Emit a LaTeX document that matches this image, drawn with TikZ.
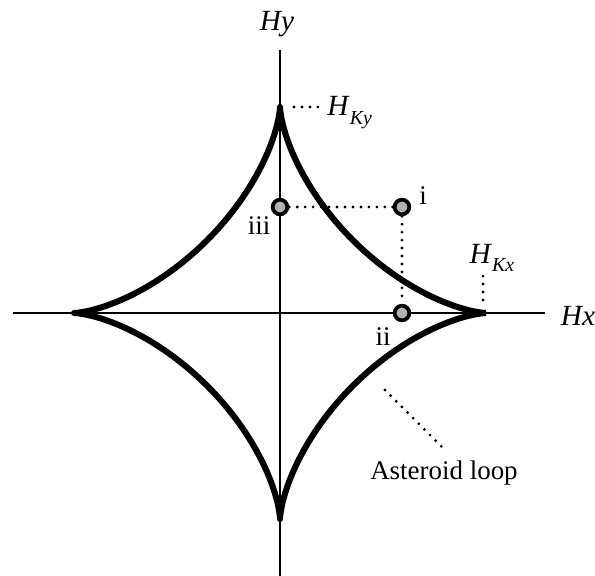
\documentclass[tikz,border=0pt]{standalone}
\usepackage{fontspec}
\setmainfont{Liberation Serif}
\usetikzlibrary{positioning}
\newcommand{\hsub}[1]{\textit{H}\raisebox{-0.28em}{\fontsize{17}{20}\selectfont\itshape #1}}

\begin{document}
\begin{tikzpicture}[
    x=0.3mm, y=0.3mm,
    font=\fontsize{23}{27}\selectfont,
    axis/.style={line width=1.6pt},
    loop/.style={line width=5.2pt, line join=round},
    pt/.style={circle, draw, line width=3.2pt, fill=gray!60,
               minimum size=4.4mm, inner sep=0pt},
    dots/.style={line width=2.7pt, line cap=round,
                 dash pattern=on 0pt off 6.8pt},
    lbl/.style={inner sep=1pt},
    axlbl/.style={lbl, font=\fontsize{25}{29}\selectfont\itshape},
]
\useasboundingbox (-280,-263) rectangle (315,313);

% =====================================================================
% axes
% =====================================================================
\coordinate (xl) at (-267,0);
\coordinate (xr) at (265,0);
\coordinate (yb) at (0,-263);
\coordinate (yt) at (0,263);
\draw[axis] (xl) -- (xr);
\draw[axis] (yb) -- (yt);
\node[axlbl] (hx) at (298,-3) {Hx};
\node[axlbl] (hy) at (-3,289) {Hy};

% =====================================================================
% asteroid loop (astroid, cusps on the axes)
% =====================================================================
\draw[loop] plot[domain=0:360, samples=361, variable=\t]
    ({206*cos(\t)*cos(\t)*cos(\t)},{206*sin(\t)*sin(\t)*sin(\t)});
\coordinate (cky) at (0,206);
\coordinate (ckx) at (206,0);

% anisotropy field marks
\coordinate (kya) at (14,206);
\coordinate (kyb) at (40,206);
\draw[dots] (kya) -- (kyb);
\node[lbl, anchor=base west, font=\fontsize{25}{29}\selectfont] (hky) at (46,197)
    {\hsub{Ky}};

\coordinate (kxa) at (203,13);
\coordinate (kxb) at (203,40);
\draw[dots] (kxa) -- (kxb);
\node[lbl, font=\fontsize{25}{29}\selectfont] (hkx) at (212,55) {\hsub{Kx}};

% =====================================================================
% field points i, ii, iii
% =====================================================================
\node[pt] (pi)   at (122,106) {};
\node[pt] (pii)  at (122,0)   {};
\node[pt] (piii) at (0,106)   {};
\draw[dots] (pi) -- (piii);
\draw[dots] (pi) -- (pii);
\node[lbl] (li)   at (143,117) {i};
\node[lbl] (lii)  at (103,-24) {ii};
\node[lbl] (liii) at (-21,87)  {iii};

% leader to the curve name
\coordinate (la) at (105,-77);
\coordinate (lb) at (162,-134);
\draw[dots] (la) -- (lb);
\node[lbl] (lname) at (164,-160) {Asteroid loop};

\end{tikzpicture}
\end{document}
